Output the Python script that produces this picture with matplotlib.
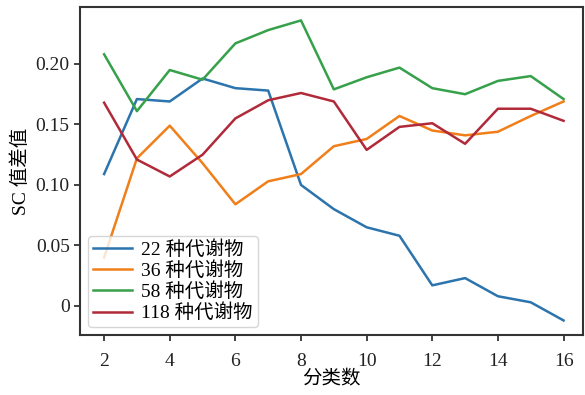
import numpy as np
import matplotlib
matplotlib.use("Agg")
import matplotlib.pyplot as plt
from matplotlib.ticker import FuncFormatter

plt.rcParams['font.family'] = ['Liberation Serif', 'Noto Sans CJK SC']

# number of clusters
k = [2, 3, 4, 5, 6, 7, 8, 9, 10, 11, 12, 13, 14, 15, 16]

sc_22 = [0.109, 0.171, 0.169, 0.188, 0.180, 0.178, 0.100, 0.080, 0.065, 0.058,
         0.017, 0.023, 0.008, 0.003, -0.012]
sc_36 = [0.040, 0.122, 0.149, 0.118, 0.084, 0.103, 0.109, 0.132, 0.138, 0.157,
         0.145, 0.141, 0.144, 0.157, 0.169]
sc_58 = [0.208, 0.161, 0.195, 0.187, 0.217, 0.228, 0.236, 0.179, 0.189, 0.197,
         0.180, 0.175, 0.186, 0.190, 0.171]
sc_118 = [0.168, 0.121, 0.107, 0.125, 0.155, 0.170, 0.176, 0.169, 0.129, 0.148,
          0.151, 0.134, 0.163, 0.163, 0.153]

labels = ['22 种代谢物', '36 种代谢物', '58 种代谢物', '118 种代谢物']
colors = ['#2b74ad', '#f07f1a', '#36a04a', '#b02a3a']

fig = plt.figure(figsize=(5.85, 3.95), dpi=100)
ax = fig.add_axes([0.137, 0.152, 0.86, 0.83])

for vals, lab, c in zip([sc_22, sc_36, sc_58, sc_118], labels, colors):
    ax.plot(k, vals, color=c, lw=1.8, label=lab)

ax.set_xlim(1.27, 16.6)
ax.set_ylim(-0.024, 0.247)
ax.set_xticks(range(2, 17, 2))
ax.set_yticks([0, 0.05, 0.10, 0.15, 0.20])
ax.yaxis.set_major_formatter(FuncFormatter(lambda v, p: '0' if abs(v) < 1e-9 else '%.2f' % v))

for s in ax.spines.values():
    s.set_color('#333333')
    s.set_linewidth(1.5)
ax.tick_params(direction='out', length=4, width=1.3, color='#333333',
               labelsize=14, labelcolor='#222222')
ax.tick_params(axis='x', pad=9)

ax.set_xlabel('分类数', fontsize=14, labelpad=0)
ax.set_ylabel('SC 值差值', fontsize=14, labelpad=4)

ax.legend(loc='lower left', fontsize=14, frameon=True, handlelength=2.0,
          borderpad=0.25, labelspacing=0.12, handletextpad=0.5,
          borderaxespad=0.4, edgecolor='#cccccc', fancybox=True)

fig.savefig('out.png', dpi=100)
